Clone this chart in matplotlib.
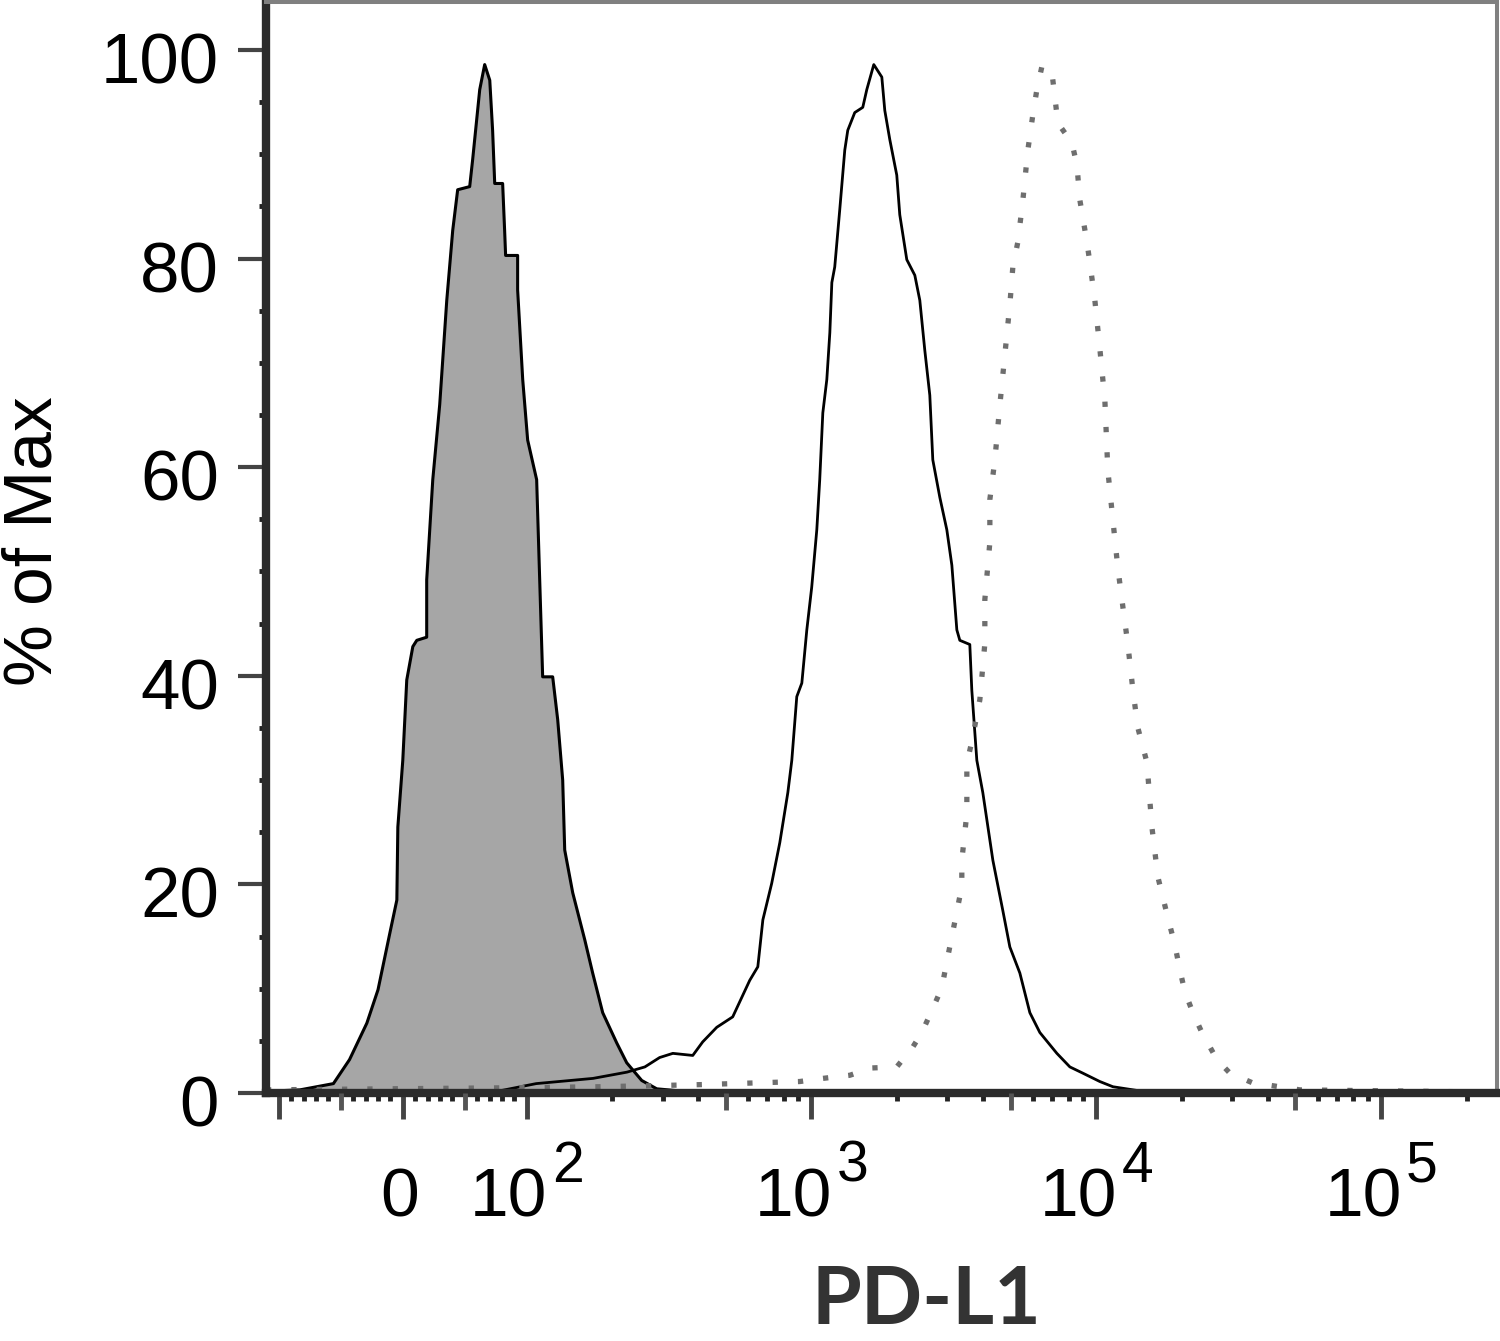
import matplotlib
matplotlib.use('Agg')
import matplotlib.pyplot as plt
import matplotlib.transforms as mtransforms
from matplotlib.ticker import NullLocator

# isotype control (grey filled histogram)
iso_x = [-111, -103, -83, -56, -43, -29, -20, -10.5, -4.8, -4, 0, 3.2, 8.1, 11.3, 19.3, 19.3,
         24.2, 29.8, 35.5, 40.3, 44.3, 54.0, 56.4, 62.1, 66.1, 70.2, 72.5, 74.2, 80.6, 82.2,
         83.0, 92.7, 92.7, 96.8, 100.8, 108.4, 111.1, 113.8, 123.4, 128.5, 133.8, 136.0,
         145.1, 159.9, 170.5, 184.9, 207.1, 224.5, 253.5, 286.2, 344.5, 405.2]
iso_y = [0.1, 0.2, 0.3, 0.9, 3.2, 6.7, 9.9, 15.3, 18.5, 25.5, 31.9, 39.6, 42.8, 43.4, 43.7, 49.2,
         58.8, 66.0, 76.0, 82.7, 86.6, 86.9, 89.5, 96.2, 98.6, 97.1, 92.3, 87.2, 87.2, 82.7,
         80.3, 80.3, 77.0, 68.4, 62.6, 58.8, 49.2, 39.9, 39.9, 35.8, 30.0, 23.3,
         19.2, 14.7, 11.5, 7.7, 4.8, 2.9, 1.2, 0.4, 0.2, 0.0]

# PD-L1 stained (solid line)
pdl1_x = [-111, 78, 108, 171, 225, 260, 293, 326, 383, 415, 465, 529, 607, 648, 675, 725, 774,
          826, 853, 888, 925, 963, 1002, 1044, 1069, 1096, 1132, 1160, 1179, 1207, 1257, 1309,
          1341, 1419, 1514, 1564, 1655, 1766, 1809, 1884, 1993, 2042, 2161, 2306, 2401, 2500,
          2603, 2667, 2823, 2987, 3111, 3239, 3318, 3597, 3656, 3807, 3996, 4335, 4697, 4972,
          5391, 5845, 6336, 7272, 8078, 8973, 10290, 11440, 14230, 23110, 255000]
pdl1_y = [0.1, 0.2, 0.9, 1.4, 2.0, 2.5, 3.4, 3.8, 3.6, 4.9, 6.3, 7.3, 10.8, 12.1, 16.6, 20.1, 24.0,
          28.8, 31.9, 38.0, 39.3, 44.4, 48.5, 54.0, 58.8, 65.2, 68.4, 72.9, 77.7, 79.2, 84.7, 90.4,
          92.3, 94.0, 94.5, 96.2, 98.6, 97.4, 94.2, 91.4, 88.0, 84.2, 79.9, 78.4, 76.0, 71.2,
          66.9, 60.7, 57.1, 54.0, 50.6, 44.4, 43.4, 43.0, 38.6, 31.9, 28.8, 22.3, 17.5, 14.0,
          11.5, 7.7, 5.8, 3.8, 2.5, 1.9, 1.1, 0.6, 0.2, 0.1, 0.0]

# second stained sample (dotted line)
dot_x = [-111, 86, 181, 405, 910, 1096, 1363, 1629, 1993, 2269, 2440, 2667, 2869, 2987, 3111,
         3239, 3372, 3372, 3512, 3512, 3656, 3901, 4062, 4062, 4230, 4230, 4405, 4587, 4776,
         4972, 5094, 5305, 5524, 5751, 5989, 6186, 6441, 6761, 6983, 7154, 7330, 8210, 8549,
         8759, 9269, 9497, 9887, 10290, 10720, 10980, 11440, 11910, 12400, 12910, 13450, 14000,
         15060, 15680, 16460, 17840, 18880, 19660, 20470, 21840, 23490, 26530, 29460, 35200,
         51900, 222500]
dot_y = [0.3, 0.5, 0.6, 0.8, 1.1, 1.4, 1.7, 2.4, 2.5, 4.4, 5.8, 8.1, 10.1, 12.6, 15.0,
         17.4, 19.8, 22.3, 26.8, 31.6, 33.7, 37.7, 43.1, 47.3, 52.8, 56.9, 60.7, 66.0, 70.8,
         75.6, 79.2, 81.6, 85.6, 90.4, 93.8, 96.2, 98.4, 98.3, 97.9, 95.5, 93.0, 91.1, 89.0,
         85.6, 81.6, 79.6, 76.0, 71.4, 66.4, 59.7, 54.9, 50.3, 46.6, 43.0, 38.6, 35.0,
         31.7, 25.5, 20.7, 16.8, 14.2, 11.8, 9.7, 7.7, 5.8, 3.2, 1.9, 1.0,
         0.3, 0.1]

y_major = [0, 20, 40, 60, 80, 100]
x_major = [-100, 0, 100, 1e3, 1e4, 1e5]
decades = [2, 3, 4, 5]
mid_ticks = [-50, 50, 500, 5000, 50000]

plt.rcParams['font.family'] = 'Liberation Sans'

fig = plt.figure(figsize=(15, 13.41), dpi=100)
ax = fig.add_axes([0.17733, 0.18494, 0.82067, 0.81357])

ax.fill_between(iso_x, iso_y, 0, color='#a6a6a6', lw=0)
ax.plot(iso_x, iso_y, color='black', lw=2.2)
ax.plot(pdl1_x, pdl1_y, color='black', lw=2.0)
ax.plot(dot_x, dot_y, color='#6e6e6e', lw=3.8, linestyle=(0, (1, 3.8)))

ax.set_xscale('symlog', linthresh=100, linscale=0.3915)
ax.set_xlim(-111, 2.553e5)
ax.set_ylim(0, 104.6)

# x ticks: long, medium and short
lin_minor = [v for v in range(-90, 100, 10) if v not in (-50, 0, 50)]
log_minor = [m * 10 ** k for k in (2, 3, 4) for m in (2, 3, 4, 6, 7, 8, 9)] + [2e5]
ax.set_xticks(x_major)
ax.set_xticks(lin_minor + log_minor, minor=True)
ax.tick_params(axis='x', which='major', direction='out', length=19, width=3.5,
               color='#444444', labelbottom=False)
ax.tick_params(axis='x', which='minor', direction='out', length=6, width=3.5, color='#222222')

ax2 = ax.twiny()
ax2.set_xscale('symlog', linthresh=100, linscale=0.3915)
ax2.set_xlim(ax.get_xlim())
ax2.xaxis.set_ticks_position('bottom')
ax2.set_xticks(mid_ticks)
ax2.xaxis.set_minor_locator(NullLocator())
ax2.tick_params(axis='x', direction='out', length=12, width=3.5, color='#555555',
                labelbottom=False, labeltop=False)
for s in ax2.spines.values():
    s.set_visible(False)

# x tick labels: 0 and 10^k with large superscripts
ax.annotate('0', xy=(0, 0), xycoords=('data', 'axes fraction'), xytext=(-2, -89),
            textcoords='offset points', ha='center', va='baseline', fontsize=50)
for k in decades:
    ax.annotate('10', xy=(10 ** k, 0), xycoords=('data', 'axes fraction'), xytext=(15, -89),
                textcoords='offset points', ha='right', va='baseline', fontsize=50)
    ax.annotate(str(k), xy=(10 ** k, 0), xycoords=('data', 'axes fraction'), xytext=(18, -64),
                textcoords='offset points', ha='left', va='baseline', fontsize=41)

# y ticks
ax.set_yticks(y_major)
ax.set_yticks(range(0, 105, 5), minor=True)
ax.tick_params(axis='y', which='major', direction='out', length=20, width=3,
               color='#444444', labelsize=51, pad=14)
ax.tick_params(axis='y', which='minor', direction='out', length=5, width=3.5, color='#222222')
offset = mtransforms.ScaledTranslation(0, -8 / 100, fig.dpi_scale_trans)
for lbl in ax.get_yticklabels():
    lbl.set_transform(lbl.get_transform() + offset)

for side in ['left', 'bottom']:
    ax.spines[side].set_color('#2b2b2b')
    ax.spines[side].set_linewidth(6)
for side in ['top', 'right']:
    ax.spines[side].set_color('#808080')
    ax.spines[side].set_linewidth(2.9)

fig.text(34 / 1500, 1 - 541 / 1341, '% of Max', rotation=90, ha='center', va='center',
         fontsize=50)
fig.text(926 / 1500, 0.002, 'PD-L1', ha='center', va='bottom', fontsize=58,
         fontweight='bold', family='Lato', color='#333333')

fig.savefig('out.png', dpi=100)
